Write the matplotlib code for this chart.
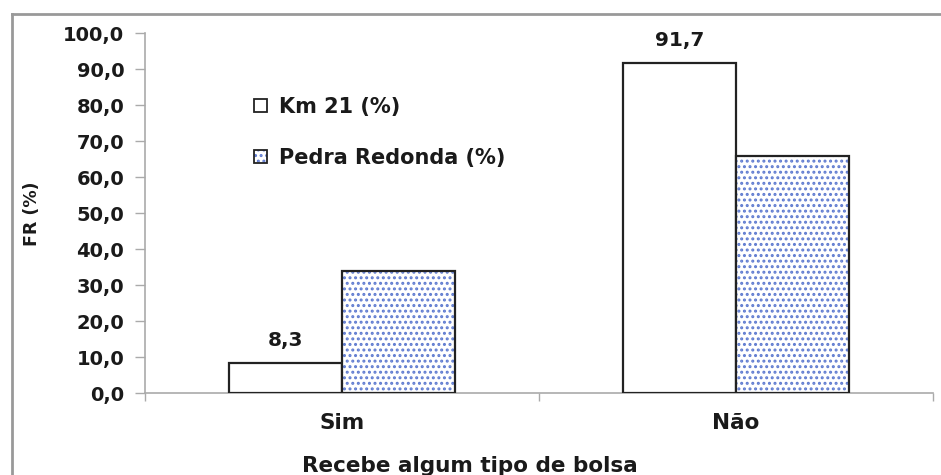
import matplotlib
matplotlib.use("Agg")
import matplotlib.pyplot as plt
from matplotlib.patches import Rectangle
from matplotlib.lines import Line2D
from matplotlib.legend_handler import HandlerTuple
import numpy as np

categories = ["Sim", "Não"]
km21 = [8.3, 91.7]
pedra = [34.0, 66.0]
km21_labels = ["8,3", "91,7"]
yticks = [0, 10, 20, 30, 40, 50, 60, 70, 80, 90, 100]
ytick_labels = ["0,0", "10,0", "20,0", "30,0", "40,0", "50,0", "60,0", "70,0", "80,0", "90,0", "100,0"]
series_names = ["Km 21 (%)", "Pedra Redonda (%)"]

plt.rcParams['font.family'] = ['DejaVu Sans']
plt.rcParams['font.weight'] = 'bold'
plt.rcParams['hatch.linewidth'] = 1.4

fig = plt.figure(figsize=(9.41, 4.75), dpi=100)
W, H = 941, 475
ax = fig.add_axes([145 / W, 1 - 393.3 / H, (932.7 - 145) / W, (393.3 - 33.3) / H])

x = np.arange(len(categories))
bw = 0.287
dot_color = '#5F7BD0'
edge = '#222222'
txt = '#1a1a1a'

ax.bar(x - bw / 2, km21, bw, facecolor='white', edgecolor=edge, linewidth=1.6, zorder=3)
ax.bar(x + bw / 2, pedra, bw, facecolor='white', edgecolor=dot_color, hatch='...', linewidth=0, zorder=3)
ax.bar(x + bw / 2, pedra, bw, fill=False, edgecolor=edge, linewidth=1.6, zorder=4)

for xi, v, lab in zip(x, km21, km21_labels):
    ax.text(xi - bw / 2, v + 6.3, lab, ha='center', va='center', fontsize=14.5, fontweight='bold', color=txt)

ax.set_xlim(-0.5, 1.5)
ax.set_ylim(0, 100)
ax.set_yticks(yticks)
ax.set_yticklabels(ytick_labels, fontsize=14, fontweight='bold', color=txt)
ax.set_xticks([-0.5, 0.5, 1.5])
ax.set_xticklabels([])
ax.tick_params(axis='y', direction='out', length=7, width=1, color='#aaaaaa', pad=8)
ax.tick_params(axis='x', direction='out', length=6, width=1, color='#aaaaaa')
for s in ['top', 'right']:
    ax.spines[s].set_visible(False)
for s in ['left', 'bottom']:
    ax.spines[s].set_color('#aaaaaa')
    ax.spines[s].set_linewidth(1.2)

for xi, c in zip(x, categories):
    ax.text(xi, -8.3, c, ha='center', va='center', fontsize=15.5, fontweight='bold', color=txt)

fig.text(470 / W, 1 - 466 / H, "Recebe algum tipo de bolsa", ha='center', va='center',
         fontsize=15.5, fontweight='bold', color=txt)
fig.text(32 / W, 1 - 214 / H, "FR (%)", ha='center', va='center', rotation=90,
         fontsize=12.5, fontweight='bold', color=txt)

# legend (no frame)
h1 = Rectangle((0, 0), 1, 1, facecolor='white', edgecolor=edge, linewidth=1.3)
h2a = Rectangle((0, 0), 1, 1, facecolor='white', edgecolor=dot_color, hatch='...', linewidth=0)
h2b = Rectangle((0, 0), 1, 1, fill=False, edgecolor=edge, linewidth=1.3)
leg = fig.legend([h1, (h2a, h2b)], series_names, loc='upper left', bbox_to_anchor=(235 / W, 1 - 78 / H),
                 frameon=False, handlelength=0.62, handleheight=0.62,
                 handletextpad=0.6, labelspacing=1.5, prop={'weight': 'bold', 'size': 15},
                 handler_map={tuple: HandlerTuple(ndivide=1)})
for t in leg.get_texts():
    t.set_color(txt)

# outer frame (cropped)
fig.add_artist(Line2D([12 / W, 12 / W], [0, 1 - 14 / H], color='#999999', linewidth=2, transform=fig.transFigure))
fig.add_artist(Line2D([12 / W, 1], [1 - 14 / H, 1 - 14 / H], color='#999999', linewidth=2, transform=fig.transFigure))

fig.savefig("out.png", dpi=100)
